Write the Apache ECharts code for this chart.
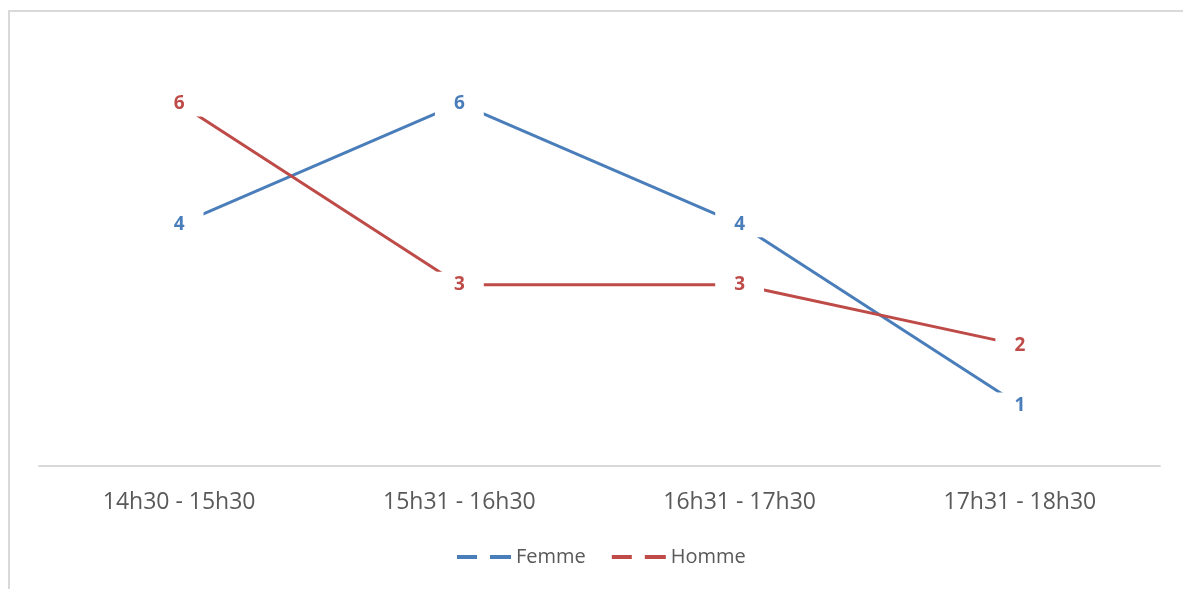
<!DOCTYPE html>
<html>
<head>
<meta charset="utf-8">
<script src="https://cdn.jsdelivr.net/npm/echarts@6/dist/echarts.min.js"></script>
<style>
    html, body { margin: 0; padding: 0; background: #fff; }
    #chart { width: 1183px; height: 589px; }
</style>
</head>
<body>
<div id="chart"></div>
<script>
//数据
var categories = ["14h30 - 15h30", "15h31 - 16h30", "16h31 - 17h30", "17h31 - 18h30"];
var femme = [4, 6, 4, 1];
var homme = [6, 3, 3, 2];

var blue = "#4a7ebb";
var red = "#be4b48";
var legendIcon = "path://M0,0H20V4H0Z M33,0H54V4H33Z";

//数据标签（白底遮住线）
function makeLabel(color) {
    return {
        show: true,
        position: "inside",
        color: color,
        fontFamily: "Open Sans",
        fontWeight: "bold",
        fontSize: 19,
        lineHeight: 18,
        backgroundColor: "#fff",
        padding: [4, 19]
    };
}

var myChart = echarts.init(document.getElementById("chart"));

var option = {
    animation: false,
    backgroundColor: "#fff",
    graphic: [{
        type: "rect",
        shape: { x: 9, y: 11, width: 1300, height: 700 },
        style: { fill: "none", stroke: "#d9d9d9", lineWidth: 2 },
        silent: true
    }],
    grid: {
        left: 39,
        right: 23,
        top: 43,
        bottom: 123
    },
    legend: {
        left: 452,
        top: 542,
        itemWidth: 54,
        itemHeight: 4,
        itemGap: 26,
        textStyle: {
            color: "#595959",
            fontFamily: "Open Sans",
            fontSize: 20,
            padding: [0, 0, 0, 0]
        },
        data: [
            { name: "Femme", icon: legendIcon, itemStyle: { color: blue } },
            { name: "Homme", icon: legendIcon, itemStyle: { color: red } }
        ]
    },
    xAxis: {
        type: "category",
        data: categories,
        boundaryGap: true,
        axisLine: { lineStyle: { color: "#d9d9d9", width: 2 } },
        axisTick: { show: false },
        axisLabel: {
            color: "#595959",
            fontFamily: "Open Sans",
            fontSize: 23,
            margin: 25
        }
    },
    yAxis: {
        type: "value",
        min: 0,
        max: 7,
        show: false,
        splitLine: { show: false }
    },
    series: [{
        name: "Femme",
        type: "line",
        data: femme,
        symbol: "circle",
        symbolSize: 0,
        showSymbol: true,
        lineStyle: { color: blue, width: 3 },
        itemStyle: { color: blue },
        label: makeLabel(blue)
    }, {
        name: "Homme",
        type: "line",
        data: homme,
        symbol: "circle",
        symbolSize: 0,
        showSymbol: true,
        lineStyle: { color: red, width: 3 },
        itemStyle: { color: red },
        label: makeLabel(red)
    }]
};

myChart.setOption(option);
</script>
</body>
</html>
